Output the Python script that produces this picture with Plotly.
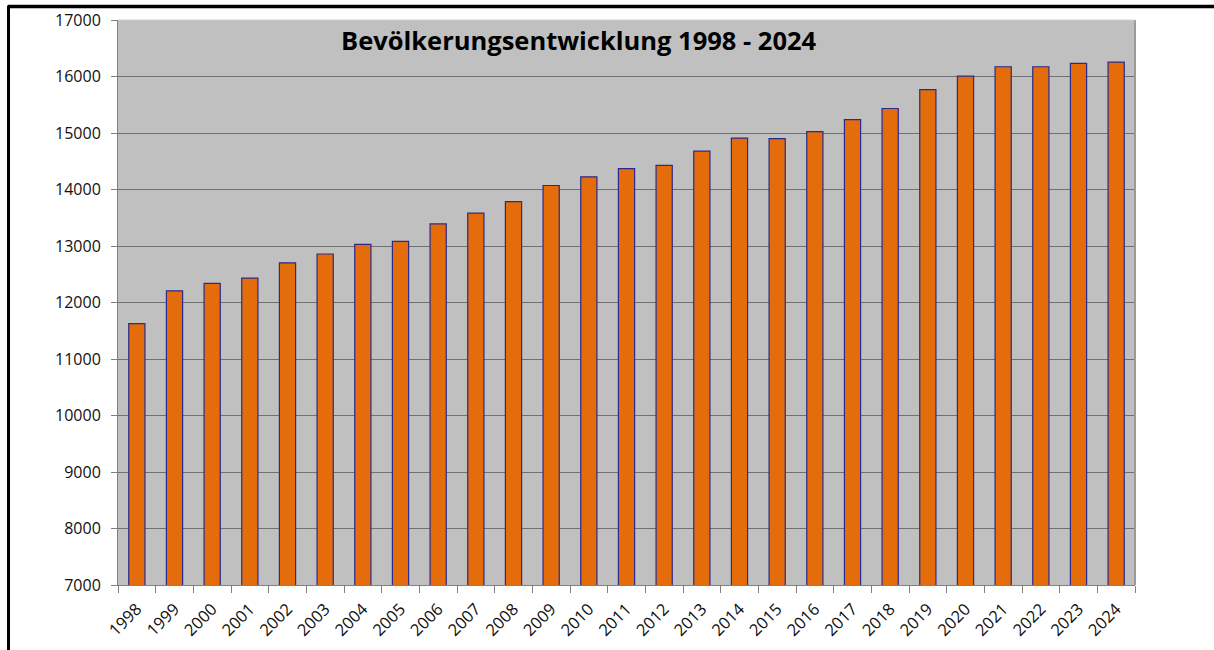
import plotly.graph_objects as go

years = [str(y) for y in range(1998, 2025)]
population = [11627, 12206, 12337, 12432, 12703, 12858, 13030, 13083, 13391,
              13581, 13787, 14071, 14224, 14371, 14426, 14680, 14910, 14900,
              15023, 15237, 15434, 15768, 16005, 16173, 16173, 16232, 16256]
y_ticks = list(range(7000, 17001, 1000))
title_text = "Bevölkerungsentwicklung 1998 - 2024"

W, H = 1214, 650
L, R, T, B = 118, 1135, 20, 585  # plot area in pixels

fig = go.Figure(
    go.Bar(
        x=years,
        y=population,
        marker=dict(color="#E46C0A", line=dict(color="#2B2A8C", width=1.2)),
        hoverinfo="x+y",
    )
)

def px_x(p):
    return (p - L) / (R - L)

def px_y(p):
    return (B - p) / (B - T)

fig.update_layout(
    width=W,
    height=H,
    margin=dict(l=L, r=W - R, t=T, b=H - B, autoexpand=False),
    paper_bgcolor="white",
    plot_bgcolor="#C0C0C0",
    bargap=0.57,
    showlegend=False,
    font=dict(family="Open Sans", color="#1a1a1a"),
    xaxis=dict(
        type="category",
        automargin=False,
        tickangle=-45,
        tickfont=dict(size=16.5, family="Open Sans", color="#111"),
        ticks="outside",
        tickson="boundaries",
        ticklen=7,
        tickcolor="#808080",
        ticklabelstandoff=7,
        showline=True,
        linecolor="#808080",
        linewidth=1,
        showgrid=False,
        range=[-0.5, len(years) - 0.5],
    ),
    yaxis=dict(
        automargin=False,
        range=[7000, 17000],
        tickmode="array",
        tickvals=y_ticks,
        ticktext=[str(v) for v in y_ticks],
        tickfont=dict(size=16, family="Open Sans", color="#111"),
        ticks="outside",
        ticklen=6,
        tickcolor="#808080",
        ticklabelstandoff=7,
        showline=True,
        linecolor="#808080",
        linewidth=1,
        showgrid=True,
        gridcolor="#707070",
        gridwidth=1,
        zeroline=False,
    ),
    annotations=[
        dict(
            text=f"<b>{title_text}</b>",
            x=px_x(579), y=px_y(40),
            xref="paper", yref="paper",
            xanchor="center", yanchor="middle",
            showarrow=False,
            font=dict(size=25.5, family="Open Sans", color="#000"),
        )
    ],
    shapes=[
        # plot-area edge on the right
        dict(type="line", xref="paper", yref="paper",
             x0=1.0, x1=1.0, y0=0, y1=1,
             line=dict(color="#9a9a9a", width=2)),
        dict(type="line", xref="paper", yref="paper",
             x0=0, x1=1.0, y0=1.0, y1=1.0,
             line=dict(color="#d0d0d0", width=1)),
        # outer frame: top and left edges
        dict(type="line", xref="paper", yref="paper",
             x0=px_x(8), x1=px_x(W + 5), y0=px_y(6.5), y1=px_y(6.5),
             line=dict(color="#000", width=3.5)),
        dict(type="line", xref="paper", yref="paper",
             x0=px_x(8.5), x1=px_x(8.5), y0=px_y(5.5), y1=px_y(H + 5),
             line=dict(color="#000", width=3)),
    ],
)

fig.write_html("out.html")
